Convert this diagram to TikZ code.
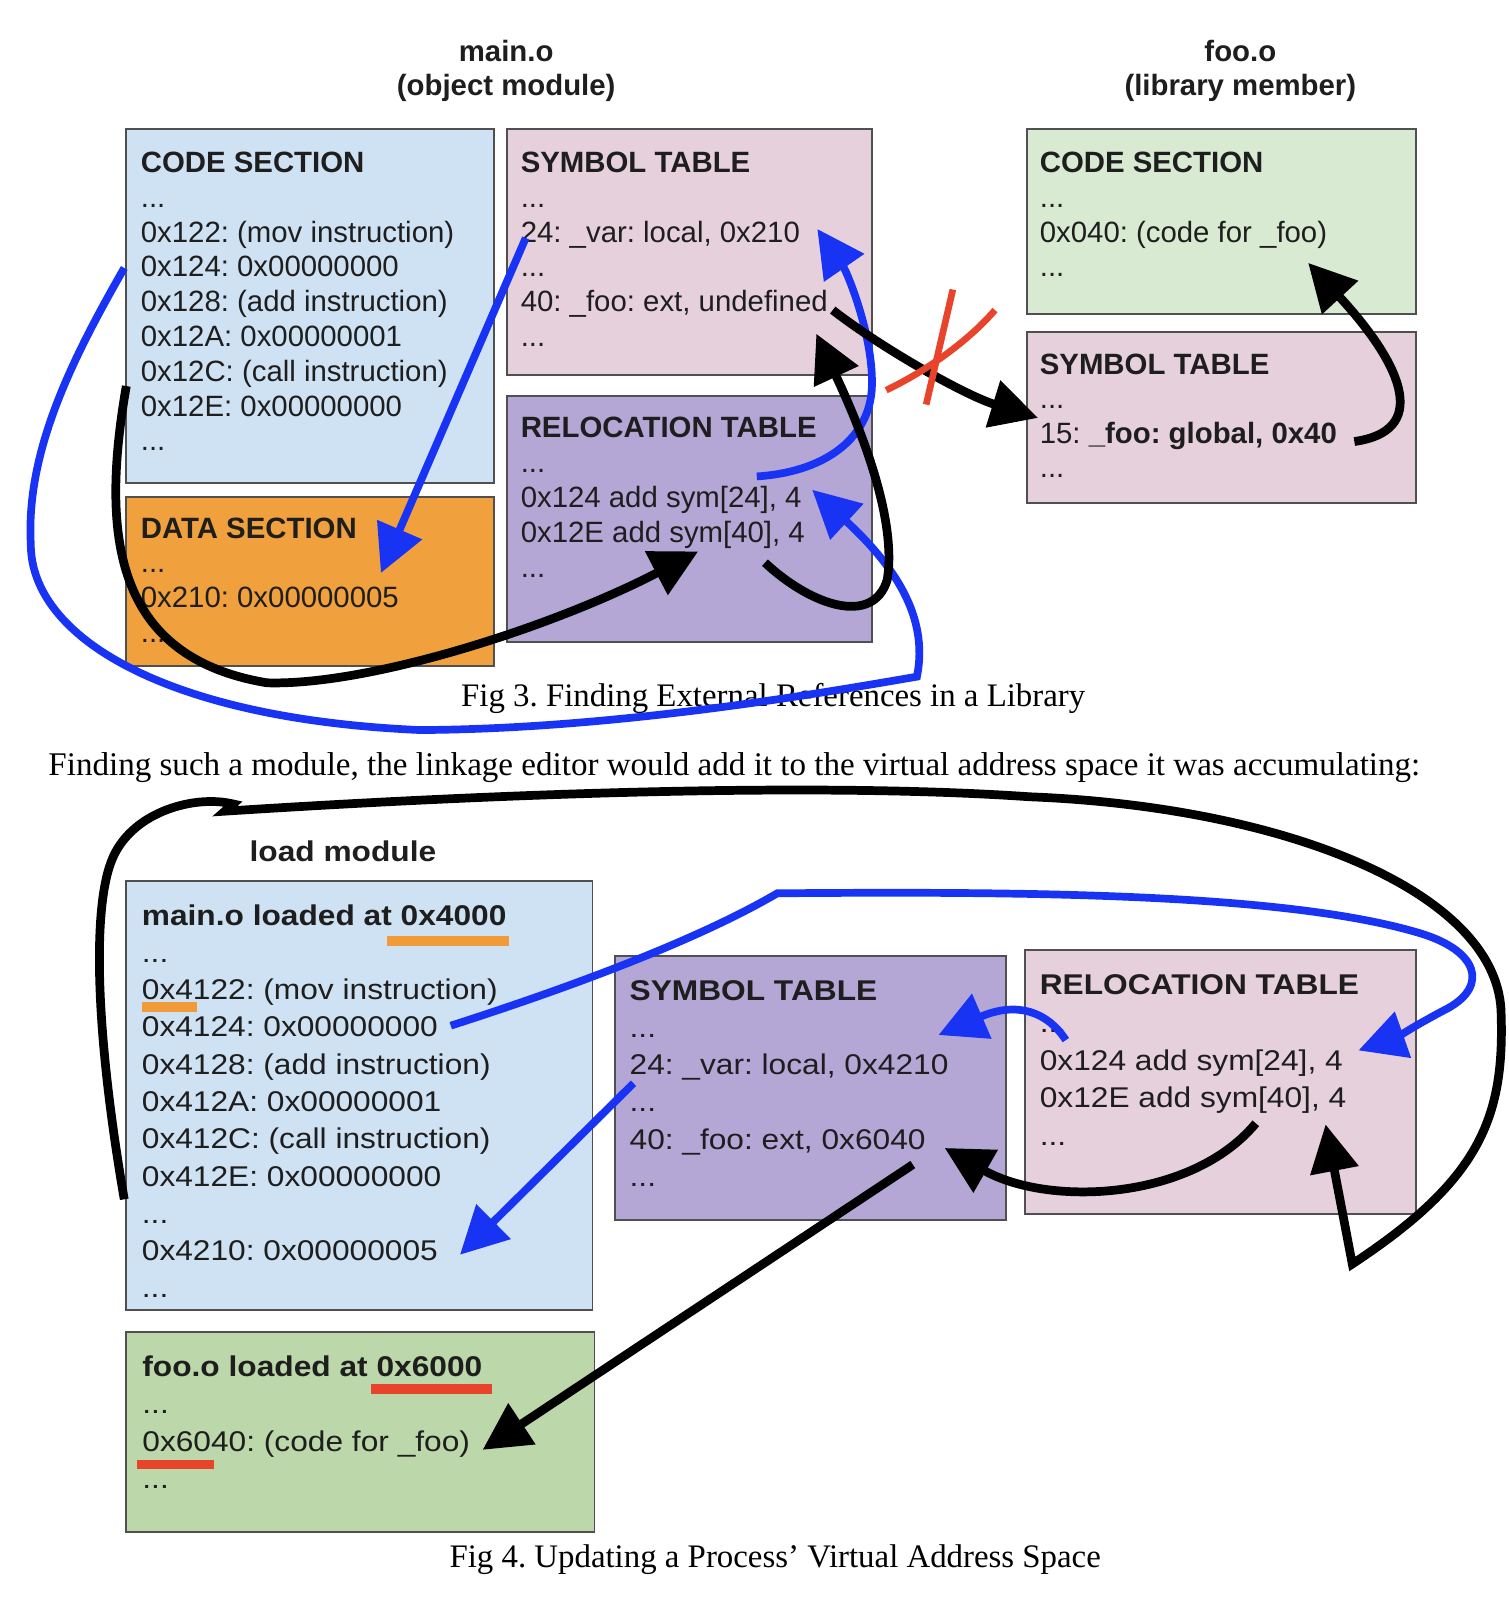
\documentclass[tikz,border=0pt]{standalone}
\usepackage{fontspec}
\setmainfont{Liberation Serif}
\newfontfamily\boxfont{Liberation Sans}
\newfontfamily\widefont[FakeStretch=1.11]{Liberation Sans}
\usetikzlibrary{arrows.meta}
\frenchspacing
\definecolor{codeblue}{HTML}{CFE2F3}
\definecolor{dataorange}{HTML}{F0A03C}
\definecolor{tablepink}{HTML}{E6D0DC}
\definecolor{tablepurple}{HTML}{B4A7D6}
\definecolor{palegreen}{HTML}{D9EAD3}
\definecolor{loadgreen}{HTML}{BCD7A9}
\definecolor{boxline}{HTML}{505050}
\definecolor{ink}{HTML}{1E1E1E}
\definecolor{linkblue}{HTML}{1833F4}
\definecolor{markred}{HTML}{E8442C}
\definecolor{markorange}{HTML}{F09B38}
\newcommand\skipped{...}
\tikzset{
  sect/.style={draw=boxline, line width=1.8pt, inner sep=0pt, outer sep=0pt, anchor=north west},
  ln/.style={anchor=base west, inner sep=0pt, text=ink, font=\boxfont\fontsize{28.6}{34}\selectfont},
  wln/.style={ln, font=\widefont\fontsize{27.8}{36}\selectfont},
  head/.style={anchor=base, inner sep=0pt, text=ink, font=\boxfont\bfseries\fontsize{28.6}{34}\selectfont},
  whead/.style={head, font=\widefont\bfseries\fontsize{27.8}{36}\selectfont},
  caption/.style={anchor=base, inner sep=0pt, font=\fontsize{32}{38}\selectfont},
  bluelink/.style={draw=linkblue, line width=7.5pt, -{Triangle[length=46pt,width=46pt]}},
  blacklink/.style={draw=black, line width=8.5pt, -{Triangle[length=46pt,width=46pt]}},
  redmark/.style={draw=markred, line width=6.5pt}
}

\begin{document}
\begin{tikzpicture}[x=1pt, y=-1pt]
  \fill[white] (0,0) rectangle (1469,1568);
  \useasboundingbox (0,0) rectangle (1469,1568);

  % Fig 3: object module and library member
  \node[head] (mainname) at (493,60) {main.o};
  \node[head] (maintype) at (493,93) {(object module)};
  \node[head] (fooname) at (1208,60) {foo.o};
  \node[head] (footype) at (1208,93) {(library member)};

  \node[sect, fill=codeblue, minimum width=358pt, minimum height=344pt] (mcode) at (123,126) {};
  \node[sect, fill=dataorange, minimum width=358pt, minimum height=165pt] (mdata) at (123,484) {};
  \node[sect, fill=tablepink, minimum width=355pt, minimum height=239pt] (msym) at (494,126) {};
  \node[sect, fill=tablepurple, minimum width=355pt, minimum height=239pt] (mrel) at (494,386) {};
  \node[sect, fill=palegreen, minimum width=379pt, minimum height=180pt] (fcode) at (1000,126) {};
  \node[sect, fill=tablepink, minimum width=379pt, minimum height=167pt] (fsym) at (1000,323) {};

  \foreach \txt [count=\i] in {{\bfseries CODE SECTION},\skipped,0x122: (mov instruction),0x124: 0x00000000,
      0x128: (add instruction),0x12A: 0x00000001,0x12C: (call instruction),0x12E: 0x00000000,\skipped}
    \node[ln] (mc-\i) at (137,{168+33.9*(\i-1)}) {\txt};
  \foreach \txt [count=\i] in {{\bfseries DATA SECTION},\skipped,0x210: 0x00000005,\skipped}
    \node[ln] (md-\i) at (137,{524+34*(\i-1)}) {\txt};
  \foreach \txt [count=\i] in {{\bfseries SYMBOL TABLE},\skipped,{24: \_var: local, 0x210},\skipped,
      {40: \_foo: ext, undefined},\skipped}
    \node[ln] (ms-\i) at (507,{168+33.9*(\i-1)}) {\txt};
  \foreach \txt [count=\i] in {{\bfseries RELOCATION TABLE},\skipped,{0x124 add sym[24], 4},
      {0x12E add sym[40], 4},\skipped}
    \node[ln] (mr-\i) at (507,{426+34*(\i-1)}) {\txt};
  \foreach \txt [count=\i] in {{\bfseries CODE SECTION},\skipped,0x040: (code for \_foo),\skipped}
    \node[ln] (fc-\i) at (1012.5,{168+33.9*(\i-1)}) {\txt};
  \foreach \txt [count=\i] in {{\bfseries SYMBOL TABLE},\skipped,{15: {\bfseries \_foo: global, 0x40}},\skipped}
    \node[ln] (fs-\i) at (1012.5,{364.5+33.6*(\i-1)}) {\txt};

  \node[caption] (cap3) at (753,688) {Fig 3. Finding External References in a Library};
  \node[caption, anchor=base west, font=\fontsize{32.2}{38}\selectfont] (remark) at (47,755.6)
    {Finding such a module, the linkage editor would add it to the virtual address space it was accumulating:};

  % Fig 4: load module
  \node[whead] (loadname) at (334,838.6) {load module};
  \node[sect, fill=codeblue, minimum width=454pt, minimum height=418pt] (lmain) at (123,858) {};
  \node[sect, fill=loadgreen, minimum width=456pt, minimum height=195pt] (lfoo) at (123,1297) {};
  \node[sect, fill=tablepurple, minimum width=381pt, minimum height=257pt] (lsym) at (599,931) {};
  \node[sect, fill=tablepink, minimum width=381pt, minimum height=257pt] (lrel) at (998,925) {};

  \foreach \txt [count=\i] in {{\bfseries main.o loaded at 0x4000},\skipped,0x4122: (mov instruction),
      0x4124: 0x00000000,0x4128: (add instruction),0x412A: 0x00000001,0x412C: (call instruction),
      0x412E: 0x00000000,\skipped,0x4210: 0x00000005,\skipped}
    \node[wln] (lm-\i) at (138,{901+36.3*(\i-1)}) {\txt};
  \foreach \txt [count=\i] in {{\bfseries foo.o loaded at 0x6000},\skipped,0x6040: (code for \_foo),\skipped}
    \node[wln] (lf-\i) at (138.5,{1340.5+36.5*(\i-1)}) {\txt};
  \foreach \txt [count=\i] in {{\bfseries SYMBOL TABLE},\skipped,{24: \_var: local, 0x4210},\skipped,
      {40: \_foo: ext, 0x6040},\skipped}
    \node[wln] (ls-\i) at (613,{974+36.3*(\i-1)}) {\txt};
  \foreach \txt [count=\i] in {{\bfseries RELOCATION TABLE},\skipped,{0x124 add sym[24], 4},
      {0x12E add sym[40], 4},\skipped}
    \node[wln] (lr-\i) at (1012.5,{969+36.6*(\i-1)}) {\txt};

  % load addresses underlined
  \fill[markorange] (377,911.5) rectangle (496,921);
  \fill[markorange] (138,976) rectangle (192,985.5);
  \fill[markred] (361,1347.6) rectangle (479,1357.4);
  \fill[markred] (133.4,1421.6) rectangle (208,1430.5);

  \node[caption] (cap4) at (755,1527) {Fig 4. Updating a Process’ Virtual Address Space};

  % arrow ends
  \coordinate (dataval) at (371,558);
  \coordinate (sym24ref) at (791,477);
  \coordinate (varaddr) at (796,223);
  \coordinate (sym40ref) at (680,537);
  \coordinate (fooentry) at (795,325);
  \coordinate (fooglobal) at (1011,407);
  \coordinate (foocode) at (1274,256);
  \coordinate (lsym40ref) at (1291,1095);
  \coordinate (lfooaddr) at (920,1118);
  \coordinate (lfoocode) at (470,1412);
  \coordinate (lsym24ref) at (1323,1023);
  \coordinate (lvaraddr) at (914,1008);
  \coordinate (lvarval) at (448,1222);

  % Fig 3 connectors
  \draw[bluelink] ([shift={(5,-4)}]ms-3.base west) -- (dataval);
  \draw[bluelink] ([shift={(-2,135)}]mcode.north west) .. controls (70,350) and (25,440) .. (30,530)
    .. controls (30,620) and (160,700) .. (409,711) .. controls (600,710) and (800,675) .. (893,659)
    .. controls (905,600) and (870,550) .. (sym24ref);
  \draw[bluelink] ([shift={(230,-30)}]mr-3.base west) .. controls (800,460) and (845,430) .. (849,380)
    .. controls (852,330) and (825,265) .. (varaddr);
  \draw[blacklink] ([shift={(0,250)}]mcode.north west) .. controls (98,520) and (110,640) .. (260,665)
    .. controls (360,668) and (540,610) .. (sym40ref);
  \draw[blacklink] ([shift={(238,20)}]mr-4.base west) .. controls (790,590) and (850,610) .. (864,565)
    .. controls (875,500) and (830,400) .. (fooentry);
  \draw[blacklink] ([shift={(304,-1.6)}]ms-5.base west) .. controls (860,340) and (940,385) .. (fooglobal);
  \draw[redmark] (928,282) -- (902,394);
  \draw[redmark] (969,302) .. controls (945,330) and (905,360) .. (863,380);
  \draw[blacklink] ([shift={(306.5,-1.7)}]fs-3.base west) .. controls (1390,420) and (1370,360) .. (foocode);

  % Fig 4 connectors
  \draw[blacklink] ([shift={(-2,310)}]lmain.north west) .. controls (92,1000) and (90,880) .. (110,835)
    .. controls (130,790) and (190,774) .. (227,783) -- (219,790)
    .. controls (500,772) and (800,762) .. (1003,776) .. controls (1256,786) and (1462,871) .. (1462,989)
    .. controls (1465,1090) and (1440,1150) .. (1317,1231) -- (lsym40ref);
  \draw[blacklink] ([shift={(210.5,15.2)}]lr-4.base west) .. controls (1160,1170) and (1020,1175) .. (lfooaddr);
  \draw[blacklink] ([shift={(276,15)}]ls-5.base west) -- (lfoocode);
  \draw[bluelink] ([shift={(301,-11)}]lm-4.base west) .. controls (560,960) and (680,915) .. (757,870)
    .. controls (1000,868) and (1250,870) .. (1380,908) .. controls (1440,925) and (1450,960) .. (1410,982)
    .. controls (1385,995) and (1360,1010) .. (lsym24ref);
  \draw[bluelink] ([shift={(25.5,7.4)}]lr-2.base west) .. controls (1020,985) and (990,975) .. (lvaraddr);
  \draw[bluelink] ([shift={(4,8.4)}]ls-3.base west) -- (lvarval);
\end{tikzpicture}
\end{document}
